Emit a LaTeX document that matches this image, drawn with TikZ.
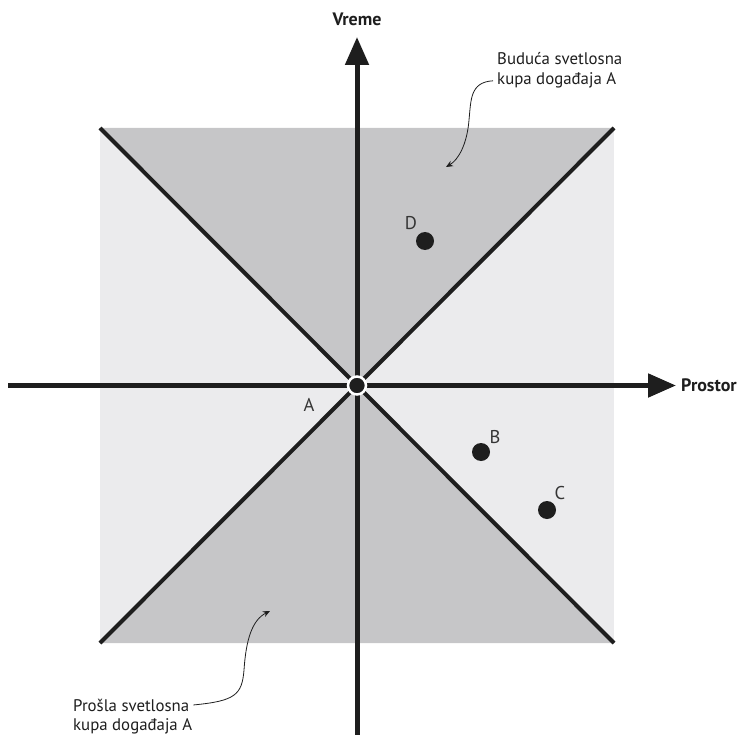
\documentclass[tikz,border=0pt]{standalone}
\usepackage{fontspec}
\setmainfont{PT Sans}
\usetikzlibrary{arrows.meta}
\definecolor{conelight}{HTML}{EBEBED}
\definecolor{conedark}{HTML}{C6C6C8}
\definecolor{ink}{HTML}{1E1E1E}

\begin{document}
\begin{tikzpicture}[x=1pt, y=-1pt, >={Stealth[length=7pt, width=6pt]},
    axis/.style={draw=ink, line width=5pt, -{Triangle[length=28pt, width=23pt]}},
    cone/.style={draw=ink, line width=4pt},
    event/.style={circle, fill=ink, inner sep=0pt, minimum size=18pt},
    evlabel/.style={font=\fontsize{18.5}{20}\selectfont, text=ink!90, inner sep=0pt},
    note/.style={font=\fontsize{16.8}{20}\selectfont, text=ink, inner sep=0pt, anchor=base west},
    axlabel/.style={font=\fontsize{18}{20}\selectfont\bfseries, text=ink, inner sep=0pt},
    pointer/.style={draw=ink, line width=0.8pt, ->}]
  \useasboundingbox (0,0) rectangle (746,735);
  % square and the two cones
  \coordinate (tl) at (100,128);
  \coordinate (tr) at (614,128);
  \coordinate (bl) at (100,643);
  \coordinate (br) at (614,643);
  \coordinate (O) at (357,385.5);
  \fill[conelight] (tl) rectangle (br);
  \fill[conedark] (tl) -- (tr) -- (O) -- cycle;
  \fill[conedark] (bl) -- (br) -- (O) -- cycle;
  \draw[cone] (tl) -- (br);
  \draw[cone] (tr) -- (bl);
  % axes
  \coordinate (xstart) at (8,385.5);
  \coordinate (xend) at (676,385.5);
  \coordinate (tstart) at (357,735);
  \coordinate (tend) at (357,37);
  \draw[axis] (xstart) -- (xend);
  \draw[axis] (tstart) -- (tend);
  \node[axlabel, anchor=west] (prostor) at (681,385.5) {Prostor};
  \node[axlabel] (vreme) at (357,19) {Vreme};
  % events
  \node[event, draw=white, line width=2.5pt] (A) at (O) {};
  \node[event] (D) at (425,241) {};
  \node[event] (B) at (481,452) {};
  \node[event] (C) at (547,510) {};
  \node[evlabel] (Alab) at (309,405) {A};
  \node[evlabel] (Dlab) at (411,223) {D};
  \node[evlabel] (Blab) at (495,437) {B};
  \node[evlabel] (Clab) at (560,493) {C};
  % light cone notes
  \node[note] (futA) at (497,65) {Buduća svetlosna};
  \node[note] (futB) at (497,85) {kupa događaja A};
  \node[note] (pastA) at (73,711) {Prošla svetlosna};
  \node[note] (pastB) at (73,730) {kupa događaja A};
  \coordinate (futtip) at (446,167);
  \coordinate (pasttip) at (270,611);
  \draw[pointer] ([xshift=-4pt]futB.west) .. controls (470,82) and (471,100) .. (469,120)
        .. controls (467,145) and (458,160) .. (futtip);
  \draw[pointer] ([xshift=4pt]pastA.east) .. controls (235,701) and (242,695) .. (244,670)
        .. controls (246,640) and (252,620) .. (pasttip);
\end{tikzpicture}
\end{document}
